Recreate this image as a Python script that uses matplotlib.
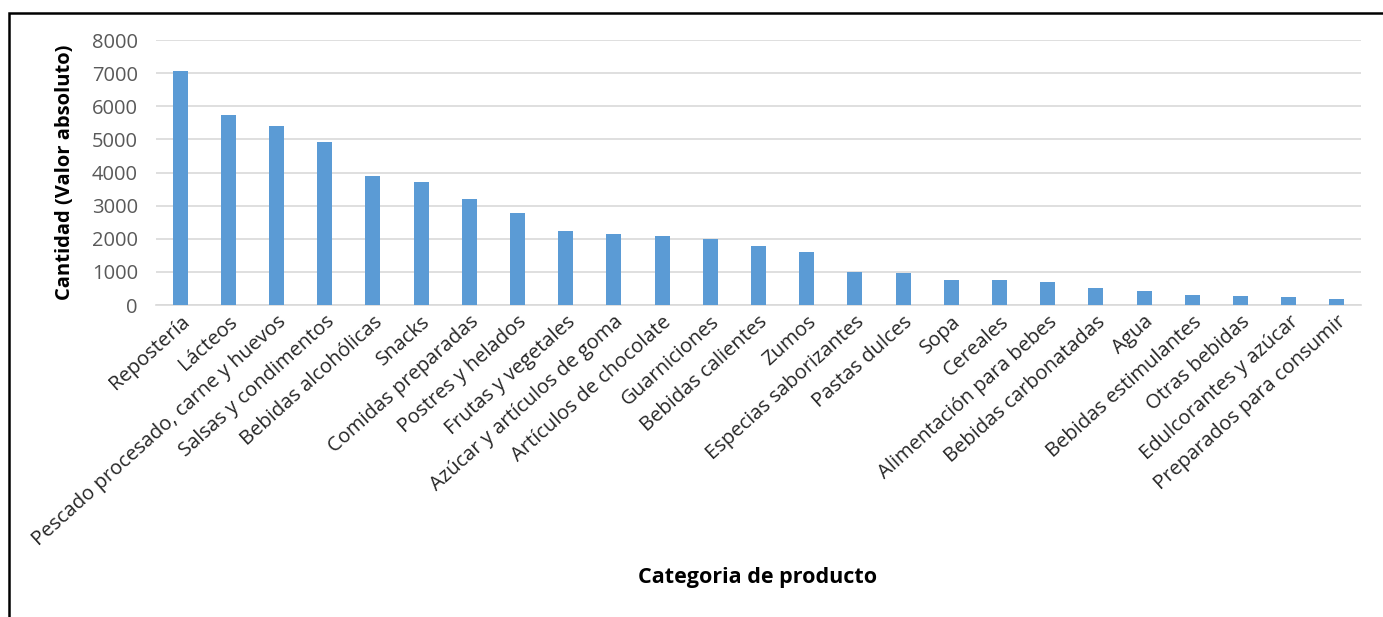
import matplotlib.pyplot as plt
from matplotlib.patches import Rectangle

categorias = [
    "Repostería", "Lácteos", "Pescado procesado, carne y huevos",
    "Salsas y condimentos", "Bebidas alcohólicas", "Snacks",
    "Comidas preparadas", "Postres y helados", "Frutas y vegetales",
    "Azúcar y artículos de goma", "Artículos de chocolate", "Guarniciones",
    "Bebidas calientes", "Zumos", "Especias saborizantes", "Pastas dulces",
    "Sopa", "Cereales", "Alimentación para bebes", "Bebidas carbonatadas",
    "Agua", "Bebidas estimulantes", "Otras bebidas", "Edulcorantes y azúcar",
    "Preparados para consumir",
]
cantidad = [
    7050, 5730, 5390, 4910, 3880, 3700, 3210, 2770, 2220, 2140, 2080, 1980,
    1770, 1600, 1000, 975, 765, 765, 705, 525, 425, 310, 280, 250, 180,
]
y_ticks = [0, 1000, 2000, 3000, 4000, 5000, 6000, 7000, 8000]

plt.rcParams['font.family'] = ['Open Sans', 'DejaVu Sans']

W, H = 1383, 617
fig = plt.figure(figsize=(W / 100, H / 100), dpi=100)
ax = fig.add_axes([156 / W, 1 - 305 / H, (1361 - 156) / W, (305 - 40) / H])

x = range(len(categorias))
ax.bar(x, cantidad, width=0.31, color='#5B9BD5', zorder=3)

ax.set_xlim(-0.5, len(categorias) - 0.5)
ax.set_ylim(0, 8000)
ax.set_yticks(y_ticks)
ax.set_yticklabels([str(v) for v in y_ticks], color='#595959', fontsize=14.5)
ax.yaxis.grid(True, color='#D9D9D9', linewidth=1.2, zorder=0)
ax.tick_params(axis='both', length=0)
ax.tick_params(axis='y', pad=13)
ax.tick_params(axis='x', pad=5)

ax.set_xticks(list(x))
ax.set_xticklabels(categorias, rotation=42, ha='right', rotation_mode='anchor',
                   fontsize=14.5, color='#262626')

for s in ['top', 'right', 'left']:
    ax.spines[s].set_visible(False)
ax.spines['bottom'].set_color('#D9D9D9')
ax.spines['bottom'].set_linewidth(1.2)

ax.set_ylabel('Cantidad (Valor absoluto)', fontsize=14.5, fontweight='bold',
              labelpad=12)
fig.text(758 / W, 1 - 578 / H, 'Categoria de producto', fontsize=15.5,
         fontweight='bold', ha='center', va='center')

# marco exterior del grafico
fig.patches.append(Rectangle((8.5 / W, -0.1), 1.2, 1 - 12.5 / H + 0.1,
                             transform=fig.transFigure, fill=False,
                             edgecolor='black', linewidth=1.8))

fig.savefig('out.png', dpi=100, facecolor='white')
